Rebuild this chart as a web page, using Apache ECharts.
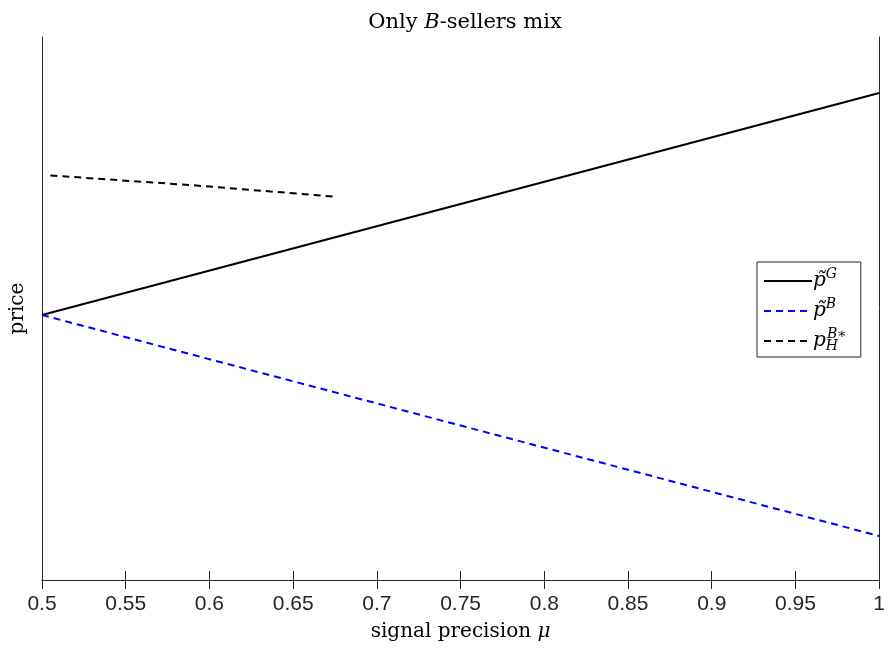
<!DOCTYPE html>
<html><head><meta charset="utf-8">
<script src="https://cdn.jsdelivr.net/npm/echarts@6/dist/echarts.min.js"></script>
<style>html,body{margin:0;padding:0;background:#fff}#c{width:888px;height:650px}</style>
</head><body><div id="c"></div>
<script>
const xTicks = [0.5, 0.55, 0.6, 0.65, 0.7, 0.75, 0.8, 0.85, 0.9, 0.95, 1];
const muLine = [0.5, 1];
const pG = [0.488, 0.897];
const pB = [0.488, 0.081];
const muH = [0.505, 0.59, 0.675];
const pH = [0.745, 0.727, 0.706];
const seriesNames = ['pG', 'pB', 'pH'];

const serif = '"DejaVu Serif", "Liberation Serif", serif';
const chart = echarts.init(document.getElementById('c'));
const zip = (xs, ys) => xs.map((x, i) => [x, ys[i]]);
const axisColor = '#262626';
const legendRich = {
  p: {fontFamily: serif, fontSize: 20, fontStyle: 'italic', color: '#000'},
  sup: {fontFamily: serif, fontSize: 14, fontStyle: 'italic', color: '#000', padding: [0, 0, 14, 0]},
  sup2: {fontFamily: serif, fontSize: 14, fontStyle: 'italic', color: '#000', padding: [0, 0, 14, -11]},
  sub: {fontFamily: serif, fontSize: 14, fontStyle: 'italic', color: '#000', padding: [10, 0, 0, 0]}
};
const legendFmt = {
  pG: '{p|p\u0303}{sup|G}',
  pB: '{p|p\u0303}{sup|B}',
  pH: '{p|p}{sub|H}{sup2|B\u2217}'
};
chart.setOption({
  animation: false,
  title: {
    text: 'Only {i|B}-sellers mix', left: 460, top: 7, textAlign: 'center',
    textStyle: {fontFamily: serif, fontSize: 21, fontWeight: 'normal', color: '#000',
      rich: {i: {fontFamily: serif, fontSize: 21, fontStyle: 'italic', color: '#000'}}}
  },
  grid: {left: 41, right: 8, top: 37, bottom: 70, containLabel: false},
  legend: {
    orient: 'vertical', left: 757, top: 262,
    padding: [5, 14, 4, 6], itemGap: 6, itemWidth: 48, itemHeight: 20,
    borderColor: '#262626', borderWidth: 1, backgroundColor: '#fff',
    data: seriesNames,
    itemStyle: {opacity: 0},
    formatter: n => legendFmt[n],
    textStyle: {rich: legendRich, padding: [0, 0, 0, -4]}
  },
  xAxis: [{
    type: 'value', min: 0.5, max: 1, interval: 0.05, position: 'bottom',
    name: 'signal precision {i|μ}', nameLocation: 'middle', nameGap: 42,
    nameTextStyle: {fontFamily: serif, fontSize: 20, color: '#000',
      rich: {i: {fontFamily: serif, fontSize: 20, fontStyle: 'italic', color: '#000'}}},
    axisLine: {show: true, lineStyle: {color: axisColor}},
    axisTick: {show: true, inside: true, length: 9, lineStyle: {color: axisColor}},
    axisLabel: {fontFamily: '"Liberation Sans", Arial, sans-serif', fontSize: 21, color: '#262626', margin: 14,
      formatter: v => String(+v.toFixed(2))},
    splitLine: {show: false}
  }, {
    type: 'value', min: 0.5, max: 1, interval: 0.05, position: 'top',
    axisLine: {show: true, lineStyle: {color: axisColor}},
    axisTick: {show: true, inside: true, length: 9, lineStyle: {color: axisColor}},
    axisLabel: {show: false}, splitLine: {show: false}
  }],
  yAxis: [{
    type: 'value', min: 0, max: 1, position: 'left',
    name: 'price', nameLocation: 'middle', nameGap: 14, nameRotate: 90,
    nameTextStyle: {fontFamily: serif, fontSize: 20, color: '#000'},
    axisLine: {show: true, lineStyle: {color: axisColor}},
    axisTick: {show: false}, axisLabel: {show: false}, splitLine: {show: false}
  }, {
    type: 'value', min: 0, max: 1, position: 'right',
    axisLine: {show: true, lineStyle: {color: axisColor}},
    axisTick: {show: false}, axisLabel: {show: false}, splitLine: {show: false}
  }],
  series: [
    {name: 'pG', type: 'line', data: zip(muLine, pG), symbol: 'none',
      lineStyle: {color: '#000', width: 2, type: 'solid'}, itemStyle: {color: '#000'}},
    {name: 'pB', type: 'line', data: zip(muLine, pB), symbol: 'none',
      lineStyle: {color: '#0000ff', width: 2, type: [7, 5]}, itemStyle: {color: '#0000ff'}},
    {name: 'pH', type: 'line', data: zip(muH, pH), symbol: 'none',
      lineStyle: {color: '#000', width: 2, type: [7, 5]}, itemStyle: {color: '#000'}}
  ]
});
</script></body></html>
